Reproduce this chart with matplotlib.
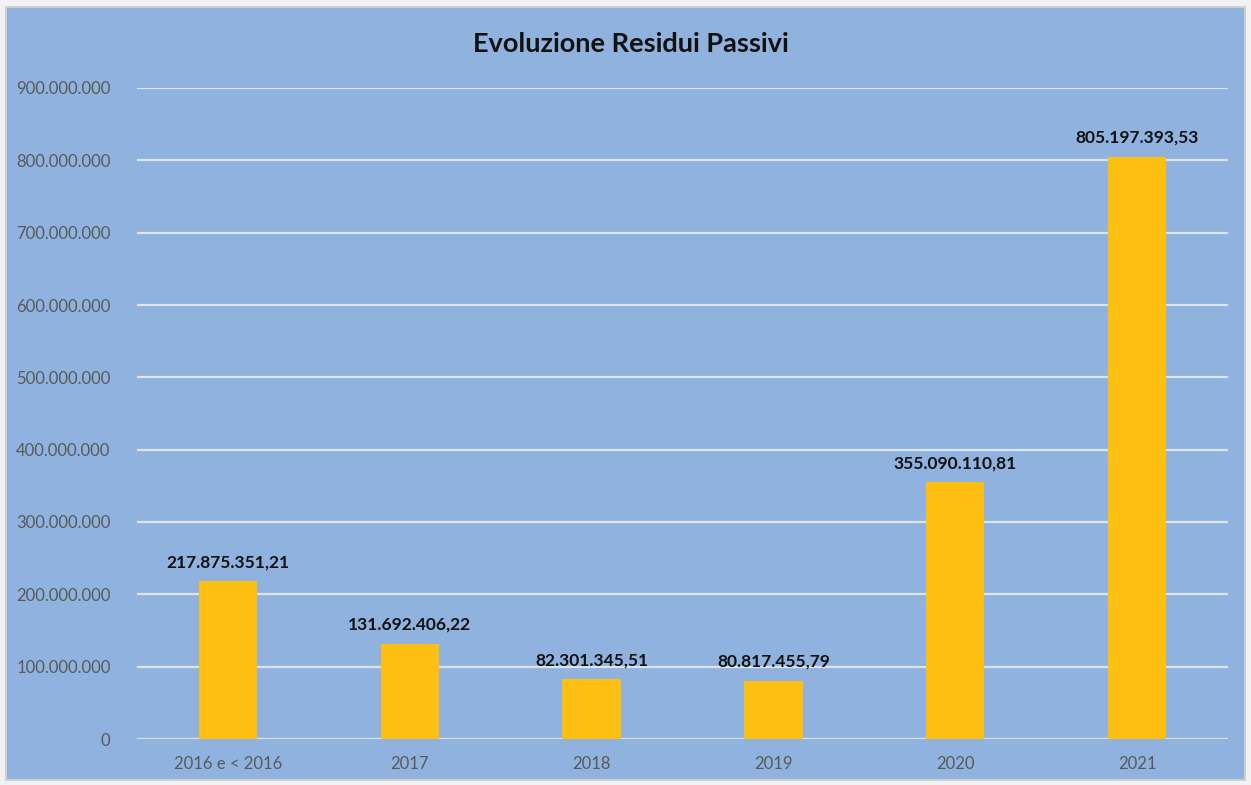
import matplotlib.pyplot as plt
from matplotlib.patches import Rectangle
from matplotlib.ticker import FuncFormatter
import numpy as np

categories = ['2016 e < 2016', '2017', '2018', '2019', '2020', '2021']
residui = [217875351.21, 131692406.22, 82301345.51, 80817455.79, 355090110.81, 805197393.53]
y_ticks = np.arange(0, 900000001, 100000000)

BG = '#8FB3DE'
BAR = '#FDBF12'


def it_format(v, decimals=0):
    # Italian number style: dot for thousands, comma for decimals
    s = f'{v:,.{decimals}f}'
    return s.replace(',', 'X').replace('.', ',').replace('X', '.')


plt.rcParams['font.family'] = ['Lato', 'DejaVu Sans']

fig = plt.figure(figsize=(12.51, 7.85), dpi=100, facecolor='#F2F2F2')
# chart area background with thin border, kept behind the axes
fig.patches.append(Rectangle((6 / 1251, 5 / 785), 1239 / 1251, 773 / 785,
                             transform=fig.transFigure, facecolor=BG,
                             edgecolor='#D0D0D0', linewidth=1.5, zorder=-10))

ax = fig.add_axes([137 / 1251, 1 - 739 / 785, 1091 / 1251, (739 - 88) / 785])
ax.set_facecolor('none')

x = np.arange(len(categories))
bars = ax.bar(x, residui, width=0.32, color=BAR, zorder=3)

for xi, v in zip(x, residui):
    ax.annotate(it_format(v, 2), (xi, v), xytext=(0, 8), textcoords='offset points',
                ha='center', va='bottom', fontsize=12.5, fontweight='bold', color='#111111')

ax.set_xlim(-0.5, len(categories) - 0.5)
ax.set_ylim(0, 900000000)
ax.set_yticks(y_ticks)
ax.yaxis.set_major_formatter(FuncFormatter(lambda v, p: it_format(v)))
ax.set_xticks(x)
ax.set_xticklabels(categories)
ax.grid(axis='y', color='#DCE3EC', linewidth=1.6, zorder=0)
ax.set_axisbelow(True)
for s in ax.spines.values():
    s.set_visible(False)
ax.tick_params(axis='both', length=0, colors='#595959', labelsize=12)
ax.tick_params(axis='y', pad=19)
ax.tick_params(axis='x', pad=12)

fig.text(0.504, 1 - 44 / 785, 'Evoluzione Residui Passivi', ha='center', va='center',
         fontsize=19.5, fontweight='bold', color='#111111')

fig.savefig('out.png', dpi=100, facecolor=fig.get_facecolor())
